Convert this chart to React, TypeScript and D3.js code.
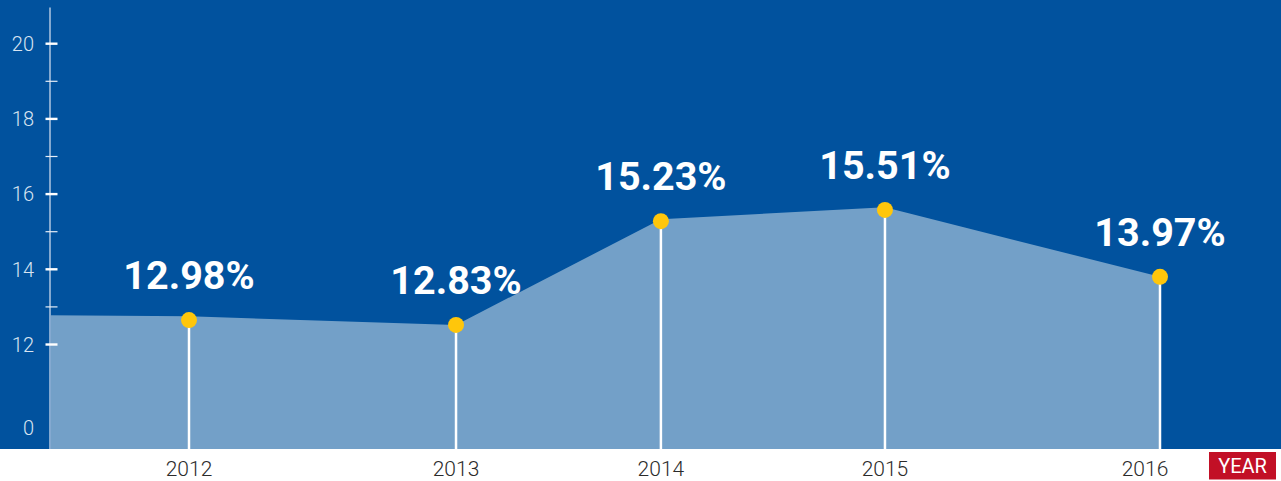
import React from "react";
import * as d3 from "d3";

// ---- data ----
const years = [2012, 2013, 2014, 2015, 2016];
// horizontal position of each year on the (irregular) time axis, in year units
const yearPositions = [2012, 2013.1, 2013.944, 2014.867, 2016];
// plotted values of the markers
const markerValues = [12.65, 12.52, 15.28, 15.58, 13.8];
// value labels shown above the markers
const valueLabels = ["12.98%", "12.83%", "15.23%", "15.51%", "13.97%"];
// top edge of the shaded area (first entry = value at the axis edge)
const areaStartValue = 12.78;
const areaValues = [12.75, 12.52, 15.33, 15.65, 13.8];
// y-axis ticks
const majorTicks = [12, 14, 16, 18, 20];
const minorTicks = [13, 15, 17, 19];
const zeroTick = 0;

const W = 1281;
const H = 481;
const plotLeft = 49;
const plotBottom = 449;

const BG = "#01529E";
const AREA = "#73A0C8";
const DOT = "#FFC60B";

export default function App() {
  const x = d3.scaleLinear().domain([2012, 2016]).range([189, 1160]);
  const y = d3.scaleLinear().domain([0, 12, 20]).range([428, 344.5, 43.7]);

  const areaPts: [number, number][] = [
    [plotLeft, y(areaStartValue)],
    ...areaValues.map((v, i) => [x(yearPositions[i]), y(v)] as [number, number]),
  ];
  const area = d3
    .area<[number, number]>()
    .x((d) => d[0])
    .y0(plotBottom)
    .y1((d) => d[1])
    .curve(d3.curveLinear);

  const lastX = x(yearPositions[yearPositions.length - 1]);

  return (
    <svg
      width={W}
      height={H}
      style={{ position: "absolute", left: 0, top: 0, display: "block" }}
      fontFamily="Roboto, 'Noto Sans', sans-serif"
    >
      <rect x={0} y={0} width={W} height={H} fill="#ffffff" />
      <rect x={0} y={0} width={W} height={plotBottom} fill={BG} />
      <path d={area(areaPts) || ""} fill={AREA} />

      {/* axis */}
      <line x1={50} x2={50} y1={7.5} y2={plotBottom} stroke="#84A9D0" strokeWidth={2} />
      {majorTicks.map((t) => (
        <g key={"M" + t}>
          <line x1={45.5} x2={57.5} y1={y(t)} y2={y(t)} stroke="#ffffff" strokeWidth={2.4} />
          <text
            x={34}
            y={y(t)}
            dy="0.36em"
            textAnchor="end"
            fontSize={20}
            fontWeight={300}
            fill="#D9E4F1"
          >
            {t}
          </text>
        </g>
      ))}
      {minorTicks.map((t) => (
        <line key={"m" + t} x1={45.5} x2={57.5} y1={y(t)} y2={y(t)} stroke="#E6EEF7" strokeWidth={1.2} />
      ))}
      <text
        x={34}
        y={y(zeroTick)}
        dy="0.36em"
        textAnchor="end"
        fontSize={20}
        fontWeight={300}
        fill="#D9E4F1"
      >
        {zeroTick}
      </text>

      {/* stems, dots, labels */}
      {years.map((yr, i) => {
        const cx = x(yearPositions[i]);
        const cy = y(markerValues[i]);
        return (
          <g key={yr}>
            <line x1={cx} x2={cx} y1={cy} y2={plotBottom} stroke="#ffffff" strokeWidth={2.5} />
            <circle cx={cx} cy={cy} r={8} fill={DOT} />
            <text
              x={cx}
              y={cy - 31}
              textAnchor="middle"
              fontSize={39.5}
              fontWeight={700}
              fill="#ffffff"
            >
              {valueLabels[i]}
            </text>
          </g>
        );
      })}

      {/* year labels */}
      {years.map((yr, i) => (
        <text
          key={"y" + yr}
          x={Math.min(x(yearPositions[i]), lastX - 15)}
          y={475.5}
          textAnchor="middle"
          fontSize={21}
          fontWeight={300}
          fill="#2b2b2b"
        >
          {yr}
        </text>
      ))}

      {/* YEAR tag */}
      <rect x={1209} y={452} width={67} height={27.5} fill="#C21026" />
      <text x={1242.5} y={473} textAnchor="middle" fontSize={20} fill="#ffffff">
        YEAR
      </text>
    </svg>
  );
}
